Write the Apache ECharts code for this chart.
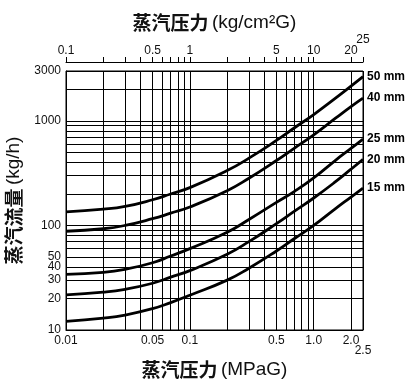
<!DOCTYPE html>
<html>
<head>
<meta charset="utf-8">
<script src="https://cdn.jsdelivr.net/npm/echarts@6/dist/echarts.min.js"></script>
<style>html,body{margin:0;padding:0;background:#fff}#c{width:412px;height:379px}</style>
</head>
<body>
<div id="c"></div>
<script>
// Pressure (MPaG) sample points
var pressure = [0.01, 0.02, 0.03, 0.05, 0.07, 0.1, 0.2, 0.3, 0.5, 0.7, 1.0, 1.5, 2.0, 2.5];
// Steam flow (kg/h) per pipe size
var flow50 = [135, 143, 152, 176, 200, 230, 335, 440, 650, 860, 1150, 1650, 2150, 2650];
var flow40 = [88, 93, 100, 116, 131, 150, 215, 283, 418, 550, 735, 1060, 1370, 1650];
var flow25 = [34, 35.5, 38, 44, 51, 60, 86, 114, 166, 212, 285, 420, 545, 670];
var flow20 = [21.7, 23, 24.5, 28, 32, 37, 53, 70, 104, 137, 183, 262, 345, 428];
var flow15 = [12.1, 13, 13.9, 16, 18.3, 21.5, 30, 39, 57, 75, 100, 145, 187, 228];
var seriesNames = ['50 mm', '40 mm', '25 mm', '20 mm', '15 mm'];
var seriesValues = [flow50, flow40, flow25, flow20, flow15];

// Axis ticks / labels
var mpaTicks = [0.01,0.02,0.03,0.04,0.05,0.06,0.07,0.08,0.09,0.1,0.2,0.3,0.4,0.5,0.6,0.7,0.8,0.9,1,2,2.5];
var mpaLabels = [0.01, 0.05, 0.1, 0.5, 1, 2];
var mpaLabelText = ['0.01', '0.05', '0.1', '0.5', '1.0', '2.0'];
var mpaEndLabel = [2.5];
var kgTicks = [0.1,0.2,0.3,0.4,0.5,0.6,0.7,0.8,0.9,1,2,3,4,5,6,7,8,9,10,20,25];
var kgLabels = [0.1, 0.5, 1, 5, 10, 20];
var kgLabelText = ['0.1', '0.5', '1', '5', '10', '20'];
var kgEndLabel = [25];
var flowTicks = [10,20,30,40,50,60,70,80,90,100,200,300,400,500,600,700,800,900,1000,2000,3000];
var flowLabels = [10, 20, 30, 40, 50, 100, 1000, 3000];
var flowLabelText = ['10', '20', '30', '40', '50', '100', '1000', '3000'];

function lookup(vals, texts) {
  return function (v) {
    var best = 0, bd = Infinity;
    for (var i = 0; i < vals.length; i++) {
      var d = Math.abs(Math.log(v) - Math.log(vals[i]));
      if (d < bd) { bd = d; best = i; }
    }
    return texts[best];
  };
}

var LATIN = '"Liberation Sans", Arial, Helvetica, sans-serif';
var CJK = '"Noto Sans CJK SC", sans-serif';

var chart = echarts.init(document.getElementById('c'), null, { renderer: 'canvas' });
var series = seriesNames.map(function (n, i) {
  return {
    name: n,
    type: 'line',
    xAxisIndex: 0,
    yAxisIndex: 0,
    smooth: true,
    symbol: 'none',
    lineStyle: { color: '#000', width: 2.8 },
    data: pressure.map(function (p, j) { return [p, seriesValues[i][j]]; }),
    endLabel: {
      show: true,
      formatter: n,
      color: '#000',
      fontFamily: LATIN,
      fontWeight: 'bold',
      fontSize: 12,
      distance: 4
    },
    silent: true,
    animation: false
  };
});

var labelBase = { fontFamily: LATIN, fontSize: 12, color: '#111', showMaxLabel: true, showMinLabel: true, hideOverlap: false };

chart.setOption({
  animation: false,
  backgroundColor: '#fff',
  grid: { left: 66, right: 49, top: 71, bottom: 49, show: true, borderColor: '#000', borderWidth: 1,
    containLabel: false, outerBoundsMode: 'none' },
  xAxis: [{
    type: 'log', logBase: 10, min: 0.01, max: 2.5, position: 'bottom',
    name: '{c|蒸汽压力} {l|(MPaG)}', nameLocation: 'middle', nameGap: 30,
    nameTextStyle: { rich: {
      c: { fontFamily: CJK, fontWeight: 'bold', fontSize: 19, color: '#111' },
      l: { fontFamily: LATIN, fontSize: 19, color: '#111' } } },
    axisLine: { show: true, lineStyle: { color: '#000', width: 1 } },
    axisTick: { show: false, customValues: mpaTicks },
    axisLabel: Object.assign({ customValues: mpaLabels, formatter: lookup(mpaLabels, mpaLabelText), margin: 5 }, labelBase),
    splitLine: { show: true, lineStyle: { color: '#000', width: 1 } }
  }, {
    type: 'log', logBase: 10, min: 0.1, max: 25, position: 'top', offset: 9,
    name: '{c|蒸汽压力} {l|(kg/cm²G)}', nameLocation: 'middle', nameGap: 30,
    nameTextStyle: { rich: {
      c: { fontFamily: CJK, fontWeight: 'bold', fontSize: 19, color: '#111' },
      l: { fontFamily: LATIN, fontSize: 19, color: '#111' } } },
    axisLine: { show: true, lineStyle: { color: '#000', width: 1 } },
    axisTick: { show: true, inside: false, length: 5, customValues: kgTicks, lineStyle: { color: '#000', width: 1 } },
    axisLabel: Object.assign({ customValues: kgLabels, formatter: lookup(kgLabels, kgLabelText), margin: 5 }, labelBase),
    splitLine: { show: false }
  }, {
    type: 'log', logBase: 10, min: 0.01, max: 2.5, position: 'bottom',
    axisLine: { show: false }, axisTick: { show: false, customValues: mpaEndLabel },
    axisLabel: Object.assign({ customValues: mpaEndLabel, formatter: function () { return '2.5'; }, margin: 15 }, labelBase),
    splitLine: { show: false }
  }, {
    type: 'log', logBase: 10, min: 0.1, max: 25, position: 'top', offset: 9,
    axisLine: { show: false }, axisTick: { show: false, customValues: kgEndLabel },
    axisLabel: Object.assign({ customValues: kgEndLabel, formatter: function () { return '25'; }, margin: 16 }, labelBase),
    splitLine: { show: false }
  }],
  yAxis: [{
    type: 'log', logBase: 10, min: 10, max: 3000,
    name: '{c|蒸汽流量} {l|(kg/h)}', nameLocation: 'middle', nameGap: 34, nameRotate: 90,
    nameTextStyle: { rich: {
      c: { fontFamily: CJK, fontWeight: 'bold', fontSize: 19, color: '#111' },
      l: { fontFamily: LATIN, fontSize: 19, color: '#111' } } },
    axisLine: { show: true, lineStyle: { color: '#000', width: 1 } },
    axisTick: { show: false, customValues: flowTicks },
    axisLabel: Object.assign({ customValues: flowLabels, formatter: lookup(flowLabels, flowLabelText), margin: 5 }, labelBase),
    splitLine: { show: true, lineStyle: { color: '#000', width: 1 } }
  }],
  series: series
});
</script>
</body>
</html>
